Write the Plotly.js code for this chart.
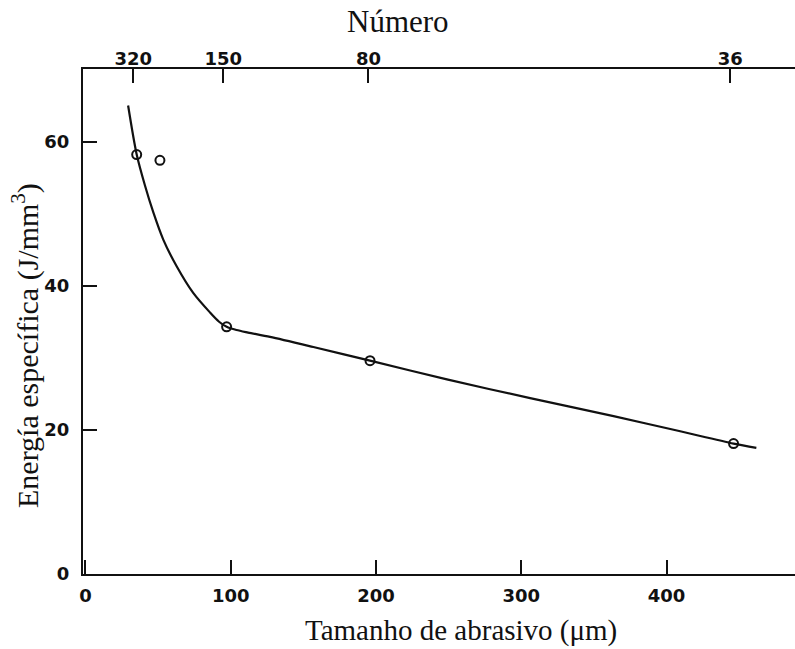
<!DOCTYPE html>
<html>
<head>
<meta charset="utf-8">
<script src="https://cdn.plot.ly/plotly-3.0.1.min.js"></script>
<style>html,body{margin:0;padding:0;background:#fff;}#chart{width:795px;height:649px;}</style>
</head>
<body>
<div id="chart"></div>
<script>
// Fitted curve
const curveX = [29.4, 35.3, 41.0, 46.7, 53.6, 62.8, 74.2, 85.7, 92.0, 97.2, 104.0, 112.0, 127.1, 156.9, 195.9, 248.8, 306.1, 363.5, 409.4, 446.1, 461.8];
const curveY = [65.0, 58.2, 53.9, 50.2, 46.4, 42.7, 39.0, 36.3, 35.0, 34.3, 33.85, 33.5, 32.9, 31.5, 29.6, 27.0, 24.4, 21.9, 19.8, 18.1, 17.5];
// Measured points
const pointsX = [35.3, 51.3, 97.2, 195.9, 446.1];
const pointsY = [58.2, 57.4, 34.3, 29.6, 18.1];
// Axis ticks
const bottomTickVals = [0, 100, 200, 300, 400];
const leftTickVals = [0, 20, 40, 60];
const topTickVals = [32.9, 94.9, 194.8, 443.9];
const topTickText = ['320', '150', '80', '36'];
// Titles
const xTitle = 'Tamanho de abrasivo (μm)';
const yTitle = 'Energía específica (J/mm<sup>3</sup>)';
const topTitle = 'Número';

const xRange = [-1.65, 488.4];
const yRange = [0, 70.07];
const tickFont = {family: 'DejaVu Sans', size: 18, weight: 'bold', color: '#111'};
const serif = 'Liberation Serif, Times New Roman, serif';

const traces = [
  {x: curveX, y: curveY, type: 'scatter', mode: 'lines',
   line: {color: '#111', width: 2.2, shape: 'spline', smoothing: 0.8}, hoverinfo: 'skip'},
  {x: pointsX, y: pointsY, type: 'scatter', mode: 'markers',
   marker: {symbol: 'circle-open', size: 9, color: '#111', line: {width: 2, color: '#111'}}},
  {x: [0], y: [0], xaxis: 'x2', yaxis: 'y', type: 'scatter', mode: 'markers', marker: {opacity: 0}, hoverinfo: 'skip'}
];

const layout = {
  width: 795, height: 649,
  margin: {l: 83, r: 0, t: 69, b: 75},
  paper_bgcolor: '#fff', plot_bgcolor: '#fff',
  showlegend: false,
  xaxis: {
    range: xRange, tickvals: bottomTickVals, ticks: 'inside', ticklen: 14, tickwidth: 2, tickcolor: '#111',
    showline: true, linecolor: '#111', linewidth: 2, showgrid: false, zeroline: false,
    tickfont: tickFont, ticklabelstandoff: 4
  },
  xaxis2: {
    overlaying: 'x', side: 'top', range: xRange, tickvals: topTickVals, ticktext: topTickText,
    ticks: 'inside', ticklen: 14, tickwidth: 2, tickcolor: '#111',
    showline: true, linecolor: '#111', linewidth: 2, showgrid: false, zeroline: false,
    tickfont: tickFont, ticklabelstandoff: -5
  },
  yaxis: {
    range: yRange, tickvals: leftTickVals, ticks: 'inside', ticklen: 14, tickwidth: 2, tickcolor: '#111',
    showline: true, linecolor: '#111', linewidth: 2, showgrid: false, zeroline: false,
    tickfont: tickFont, ticklabelstandoff: 8
  },
  annotations: [
    {text: topTitle, xref: 'paper', yref: 'paper', x: (398 - 83) / 712, y: (574 - 22) / 505,
     xanchor: 'center', yanchor: 'middle', showarrow: false,
     font: {family: serif, size: 31, color: '#111'}},
    {text: xTitle, xref: 'paper', yref: 'paper', x: (461 - 83) / 712, y: (574 - 630) / 505,
     xanchor: 'center', yanchor: 'middle', showarrow: false,
     font: {family: serif, size: 29, color: '#111'}},
    {text: yTitle, xref: 'paper', yref: 'paper', x: (25 - 83) / 712, y: (574 - 346) / 505,
     xanchor: 'center', yanchor: 'middle', showarrow: false, textangle: -90,
     font: {family: serif, size: 30, color: '#111'}}
  ]
};

Plotly.newPlot('chart', traces, layout, {displayModeBar: false, staticPlot: true});
</script>
</body>
</html>
